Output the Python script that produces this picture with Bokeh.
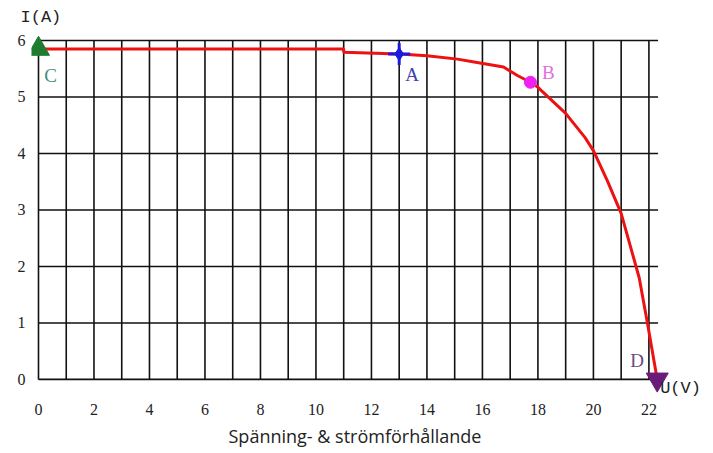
from bokeh.plotting import figure
from bokeh.models import ColumnDataSource, FixedTicker, Title
from bokeh.core.properties import value
from bokeh.embed import file_html
from bokeh.resources import INLINE

# ---- data ----
u_curve = [0, 11, 11, 13, 14, 15.1, 15.7, 16.76, 17.26, 17.73, 18, 19, 19.7, 20, 20.5, 21, 21.65, 21.95, 22.3]
i_curve = [5.85, 5.85, 5.79, 5.76, 5.73, 5.67, 5.62, 5.53, 5.38, 5.26, 5.17, 4.71, 4.28, 4.05, 3.52, 2.94, 1.8, 0.99, 0]

point_names = ["C", "A", "B", "D"]
point_u = [0, 13.0, 17.73, 22.3]
point_i = [5.85, 5.76, 5.26, 0]

x_ticks = [0, 2, 4, 6, 8, 10, 12, 14, 16, 18, 20, 22]
y_ticks = [0, 1, 2, 3, 4, 5, 6]
x_grid = list(range(0, 23))
y_grid = [0, 1, 2, 3, 4, 5, 6]
x_grid_end = 22.33
y_grid_end = 6

title_text = "Spänning- & strömförhållande"
y_unit = "I(A)"
x_unit = "U(V)"
x_unit_pos = (23.14, -0.16)

p = figure(frame_width=679, frame_height=369, x_range=(-0.252, 24.22), y_range=(-0.32, 6.212),
           output_backend="svg", toolbar_location=None,
           min_border_left=31, min_border_right=2, min_border_top=28, min_border_bottom=50)
p.outline_line_color = None
p.grid.visible = False

for ax in (p.xaxis[0], p.yaxis[0]):
    ax.axis_line_color = None
    ax.major_tick_line_color = None
    ax.minor_tick_line_color = None
    ax.major_label_text_font = "Liberation Serif"
    ax.major_label_text_font_size = "16px"
    ax.major_label_text_color = "#222222"
p.xaxis.ticker = FixedTicker(ticks=x_ticks)
p.yaxis.ticker = FixedTicker(ticks=y_ticks)
p.xaxis.major_label_standoff = 0
p.yaxis.major_label_standoff = 0

# grid
p.segment(x0=x_grid, y0=[0] * len(x_grid), x1=x_grid, y1=[y_grid_end] * len(x_grid),
          line_color="#111111", line_width=1.6)
p.segment(x0=[0] * len(y_grid), y0=y_grid, x1=[x_grid_end] * len(y_grid), y1=y_grid,
          line_color="#111111", line_width=1.6)

# curve
p.line(u_curve, i_curve, line_color="#ee1111", line_width=3)

# markers
p.scatter([point_u[0]], [point_i[0]], marker="triangle", size=22, fill_color="#1e7b2f", line_color="#1e7b2f")
p.scatter([point_u[1]], [point_i[1]], marker="cross", size=22, line_color="#1a1ae0", line_width=3)
p.scatter([point_u[1]], [point_i[1]], marker="diamond", size=13, fill_color="#1a1ae0", line_color="#1a1ae0")
p.scatter([point_u[2]], [point_i[2]], marker="circle", size=12, fill_color="#f020f0", line_color="#f020f0")
p.scatter([point_u[3]], [point_i[3]], marker="inverted_triangle", size=22, fill_color="#6a1b7a", line_color="#6a1b7a")

src = ColumnDataSource(dict(x=point_u, y=point_i, t=point_names,
                            dx=[12, 13, 18, -20], dy=[27, 20, -10, -19],
                            c=["#4a8a80", "#4040b0", "#e070e0", "#6a4a80"]))
p.text(x="x", y="y", text="t", x_offset="dx", y_offset="dy", text_color="c", source=src,
       text_font=value("Liberation Serif"), text_font_size="19px",
       text_align="center", text_baseline="middle")

p.text(x=[x_unit_pos[0]], y=[x_unit_pos[1]], text=[x_unit], text_font=value("Liberation Mono"),
       text_font_size="17px", text_color="#222222", text_align="center", text_baseline="middle")

p.add_layout(Title(text=y_unit, align="left", offset=-11, standoff=3, text_font="Liberation Mono",
                   text_font_size="17px", text_font_style="normal", text_color="#222222"), "above")

p.add_layout(Title(text=title_text, align="left", offset=197, standoff=8, text_font="Open Sans",
                   text_font_size="18px", text_font_style="normal", text_color="#222222"), "below")

open("out.html", "w").write(file_html(p, INLINE))
